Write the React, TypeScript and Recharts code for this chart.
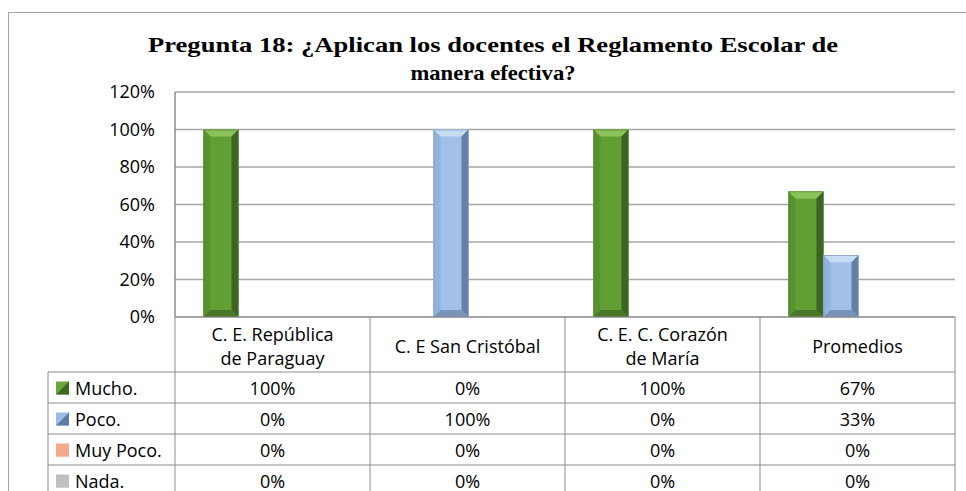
import React from 'react';
import { BarChart, Bar, XAxis, YAxis, CartesianGrid } from 'recharts';

const categories = ['C. E. República de Paraguay', 'C. E San Cristóbal', 'C. E. C. Corazón de María', 'Promedios'];
const headerLines = [['C. E. República', 'de Paraguay'], ['C. E San Cristóbal'], ['C. E. C. Corazón', 'de María'], ['Promedios']];
const seriesNames = ['Mucho.', 'Poco.', 'Muy Poco.', 'Nada.'];
const seriesKeys = ['mucho', 'poco', 'muyPoco', 'nada'];
const mucho = [1, 0, 1, 0.67];
const poco = [0, 1, 0, 0.33];
const muyPoco = [0, 0, 0, 0];
const nada = [0, 0, 0, 0];
const yTicks = [0, 0.2, 0.4, 0.6, 0.8, 1.0, 1.2];
const titleLines = ['Pregunta 18: ¿Aplican los docentes el Reglamento Escolar de', 'manera efectiva?'];

const seriesValues = [mucho, poco, muyPoco, nada];
const data = categories.map((name, i) => ({
  name,
  idx: i,
  mucho: mucho[i],
  poco: poco[i],
  muyPoco: muyPoco[i],
  nada: nada[i],
}));

const W = 966;
const H = 491;
const MARGIN = { top: 92, right: 11, bottom: 0, left: 0 };
const Y_W = 175;
const X_H = 174;
const PLOT_W = W - MARGIN.left - MARGIN.right - Y_W;
const HEADER_H = 55;
const ROW_H = 31;
const LEGEND_W = 127;
const FONT = "'Open Sans', 'Noto Sans', sans-serif";
const LINE = '#8c8c8c';

const palettes: Record<string, any> = {
  green: { face: '#62a036', left: '#58922f', top: '#8cc25a', right: '#3b6520', bottom: '#4a762a', edge: '#4a7a2a' },
  blue: { face: '#a2c0e8', left: '#92b3dd', top: '#c6dbf4', right: '#6480a8', bottom: '#7894bb', edge: '#7390b6' },
  salmon: { face: '#f4a98b', left: '#f4a98b', top: '#f7c0aa', right: '#c98266', bottom: '#d9917a', edge: '#d9917a' },
  gray: { face: '#c0c0c0', left: '#c0c0c0', top: '#d8d8d8', right: '#9a9a9a', bottom: '#a8a8a8', edge: '#a8a8a8' },
};
const seriesPalette = ['green', 'blue', 'salmon', 'gray'];
const legendColors = [
  ['#6aa63c', '#3f6a22'],
  ['#9dbde6', '#5d7ca4'],
  ['#f4a98b', '#f4a98b'],
  ['#c0c0c0', '#c0c0c0'],
];

const makeBevel = (pal: any) => (props: any) => {
  const { x, y, width, height } = props;
  if (!height || height <= 0.5 || !width) return null;
  const b = Math.min(7, width / 4, height / 2);
  const x2 = x + width;
  const y2 = y + height;
  const p = (pts: number[][]) => pts.map((q) => q.join(',')).join(' ');
  return (
    <g>
      <rect x={x} y={y} width={width} height={height} fill={pal.face} />
      <polygon points={p([[x, y], [x2, y], [x2 - b, y + b], [x + b, y + b]])} fill={pal.top} />
      <polygon points={p([[x, y], [x + b, y + b], [x + b, y2 - b], [x, y2]])} fill={pal.left} />
      <polygon points={p([[x2, y], [x2, y2], [x2 - b, y2 - b], [x2 - b, y + b]])} fill={pal.right} />
      <polygon points={p([[x, y2], [x + b, y2 - b], [x2 - b, y2 - b], [x2, y2]])} fill={pal.bottom} />
      <rect x={x + 0.5} y={y + 0.5} width={width - 1} height={height - 1} fill="none" stroke={pal.edge} strokeWidth={0.6} />
    </g>
  );
};

const pct = (v: number) => `${Math.round(v * 100)}%`;

const TableColumn = (props: any) => {
  const { x, y, payload } = props;
  const i = payload.index;
  const colW = PLOT_W / categories.length;
  const left = x - colW / 2;
  const right = x + colW / 2;
  const bottom = H + 10;
  const lines = headerLines[i];
  const hc = y + HEADER_H / 2 + 1;
  const rowsTop = y + HEADER_H;
  const elems: any[] = [];
  lines.forEach((t, k) => {
    elems.push(
      <text key={'h' + k} x={x} y={hc + (k - (lines.length - 1) / 2) * 24} textAnchor="middle" dominantBaseline="central" fontSize={18} fill="#000" fontFamily={FONT}>
        {t}
      </text>
    );
  });
  for (let r = 0; r < seriesNames.length; r++) {
    const ly = rowsTop + r * ROW_H;
    elems.push(<line key={'l' + r} x1={left} x2={right} y1={ly} y2={ly} stroke={LINE} strokeWidth={1} />);
    elems.push(
      <text key={'v' + r} x={x} y={ly + ROW_H / 2} textAnchor="middle" dominantBaseline="central" fontSize={18} fill="#000" fontFamily={FONT}>
        {pct(seriesValues[r][i])}
      </text>
    );
  }
  elems.push(<line key="vr" x1={right} x2={right} y1={y} y2={bottom} stroke={LINE} strokeWidth={1} />);
  if (i === 0) {
    const lx = left - LEGEND_W;
    elems.push(<line key="vl" x1={left} x2={left} y1={y} y2={bottom} stroke={LINE} strokeWidth={1} />);
    elems.push(<line key="vlg" x1={lx} x2={lx} y1={rowsTop} y2={bottom} stroke={LINE} strokeWidth={1} />);
    for (let r = 0; r < seriesNames.length; r++) {
      const ly = rowsTop + r * ROW_H;
      const cy = ly + ROW_H / 2;
      const [c1, c2] = legendColors[r];
      elems.push(<line key={'ll' + r} x1={lx} x2={left} y1={ly} y2={ly} stroke={LINE} strokeWidth={1} />);
      elems.push(<rect key={'m' + r} x={lx + 8} y={cy - 6} width={13} height={13} fill={c1} />);
      elems.push(<polygon key={'mt' + r} points={`${lx + 21},${cy - 6} ${lx + 21},${cy + 7} ${lx + 8},${cy + 7}`} fill={c2} />);
      elems.push(
        <text key={'n' + r} x={lx + 27} y={cy} textAnchor="start" dominantBaseline="central" fontSize={18} fill="#000" fontFamily={FONT}>
          {seriesNames[r]}
        </text>
      );
    }
  }
  return <g>{elems}</g>;
};

export default function App() {
  return (
    <div style={{ position: 'absolute', left: 0, top: 0, width: W, height: H, overflow: 'hidden', background: '#fff' }}>
      <div style={{ position: 'absolute', left: 8, top: 12, width: 1000, height: 600, border: '1.5px solid #a6a6a6' }} />
      <svg width={W} height={90} style={{ position: 'absolute', left: 0, top: 0 }}>
        <text
          x={493}
          y={52}
          textAnchor="middle"
          fontFamily="'Liberation Serif', serif"
          fontWeight="bold"
          fontSize={22}
          fill="#000"
          textLength={690}
          lengthAdjust="spacingAndGlyphs"
        >
          {titleLines[0]}
        </text>
        <text
          x={493}
          y={80}
          textAnchor="middle"
          fontFamily="'Liberation Serif', serif"
          fontWeight="bold"
          fontSize={22}
          fill="#000"
          textLength={165}
          lengthAdjust="spacingAndGlyphs"
        >
          {titleLines[1]}
        </text>
      </svg>
      <BarChart
        width={W}
        height={H}
        data={data}
        margin={MARGIN}
        barCategoryGap="14.6%"
        barGap={0}
        style={{ position: 'absolute', left: 0, top: 0 }}
      >
        <CartesianGrid horizontal={true} vertical={false} stroke="#a6a6a6" strokeWidth={1.5} />
        <YAxis
          width={Y_W}
          domain={[0, 1.2]}
          ticks={yTicks}
          tickFormatter={pct}
          tickLine={false}
          tickSize={0}
          tickMargin={20}
          axisLine={{ stroke: LINE, strokeWidth: 1.5 }}
          tick={{ fontSize: 18, fill: '#000', fontFamily: FONT }}
          interval={0}
        />
        <XAxis
          dataKey="name"
          height={X_H}
          tickLine={false}
          tickSize={0}
          tickMargin={0}
          axisLine={{ stroke: LINE, strokeWidth: 1 }}
          tick={<TableColumn />}
          interval={0}
        />
        {seriesKeys.map((k, si) => (
          <Bar key={k} dataKey={k} name={seriesNames[si]} isAnimationActive={false} shape={makeBevel(palettes[seriesPalette[si]])} />
        ))}
      </BarChart>
    </div>
  );
}
